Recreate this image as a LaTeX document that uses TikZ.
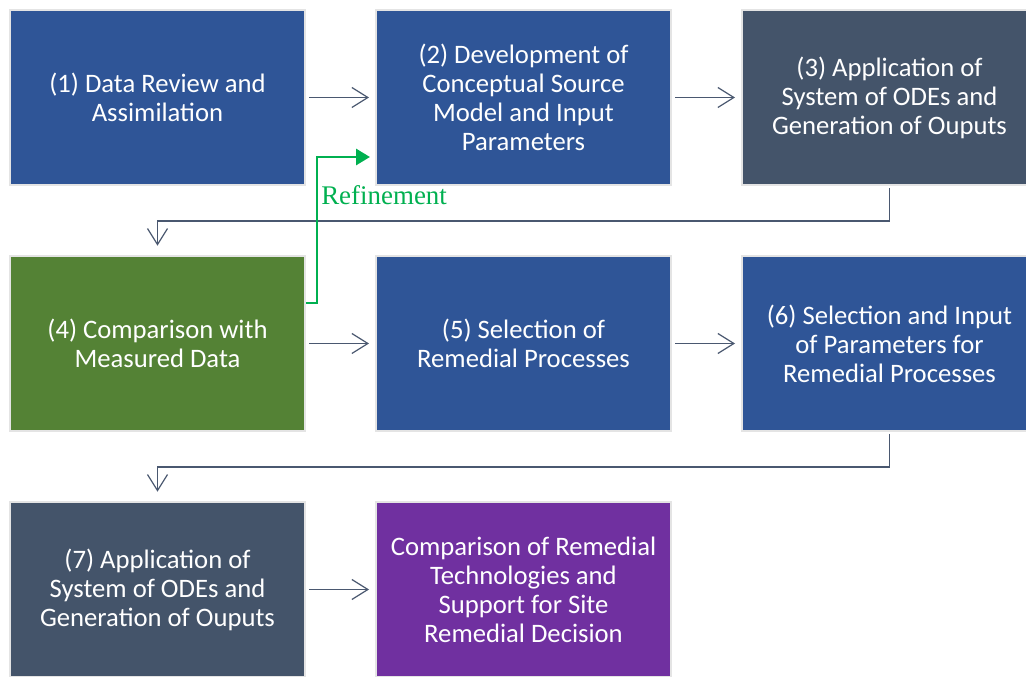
\documentclass[tikz,border=0pt]{standalone}
\usepackage{fontspec}
\setmainfont{Carlito}
\newfontfamily\reffont{Liberation Serif}
\usetikzlibrary{arrows.meta,calc}
\definecolor{bblue}{HTML}{2F5597}
\definecolor{bslate}{HTML}{44546A}
\definecolor{bgreen}{HTML}{548235}
\definecolor{bpurple}{HTML}{7030A0}
\definecolor{bborder}{HTML}{E4E4E4}
\definecolor{arrcol}{HTML}{4A5870}
\definecolor{refgreen}{HTML}{00B050}
\tikzset{
  box/.style={draw=bborder, line width=1.5pt, minimum width=221.25pt, minimum height=131.25pt,
    inner sep=0pt, align=center, text=white, font=\fontsize{20}{21.75}\selectfont},
  arr/.style={draw=arrcol, line width=0.9pt, -{Straight Barb[length=12pt,width=15pt,line width=0.9pt]}},
  refarr/.style={draw=refgreen, line width=2.2pt, -{Triangle[length=10.5pt,width=12pt]}},
}
\begin{document}
\begin{tikzpicture}[x=0.75pt,y=-0.75pt]
\useasboundingbox (0,0) rectangle (1026,677);
\fill[white] (0,0) rectangle (1026,677);
\clip (0,0) rectangle (1026,677);
\node[box, fill=bblue]   (b1) at (157.5,97.5) {(1) Data Review and\\Assimilation};
\node[box, fill=bblue]   (b2) at (523.5,97.5) {(2) Development of\\Conceptual Source\\Model and Input\\Parameters};
\node[box, fill=bslate]  (b3) at (889.5,97.5) {(3) Application of\\System of ODEs and\\Generation of Ouputs};
\node[box, fill=bgreen]  (b4) at (157.5,343.5) {(4) Comparison with\\Measured Data};
\node[box, fill=bblue]   (b5) at (523.5,343.5) {(5) Selection of\\Remedial Processes};
\node[box, fill=bblue]   (b6) at (889.5,343.5) {(6) Selection and Input\\of Parameters for\\Remedial Processes};
\node[box, fill=bslate]  (b7) at (157.5,589.5) {(7) Application of\\System of ODEs and\\Generation of Ouputs};
\node[box, fill=bpurple] (b8) at (523.5,589.5) {Comparison of Remedial\\Technologies and\\Support for Site\\Remedial Decision};

\draw[arr, shorten <=2.25pt, shorten >=4.5pt] (b1) -- (b2);
\draw[arr, shorten <=2.25pt, shorten >=4.5pt] (b2) -- (b3);
\draw[arr, shorten <=2.25pt, shorten >=4.5pt] (b4) -- (b5);
\draw[arr, shorten <=2.25pt, shorten >=4.5pt] (b5) -- (b6);
\draw[arr, shorten <=2.25pt, shorten >=4.5pt] (b7) -- (b8);
\draw[arr, shorten <=1.5pt, shorten >=7pt] (b3.south) -- ++(0,35) -| (b4.north);
\draw[arr, shorten <=1.5pt, shorten >=7pt] (b6.south) -- ++(0,35) -| (b7.north);
\draw[refarr, shorten >=3.75pt] ($(b4.east)+(0,-40.5)$) -- ++(11,0) |- ($(b2.west)+(0,59.5)$);
\node[anchor=base west, inner sep=0pt, text=refgreen, font=\reffont\fontsize{20.2}{22}\selectfont] (reflabel) at (321,205) {Refinement};
\end{tikzpicture}
\end{document}
